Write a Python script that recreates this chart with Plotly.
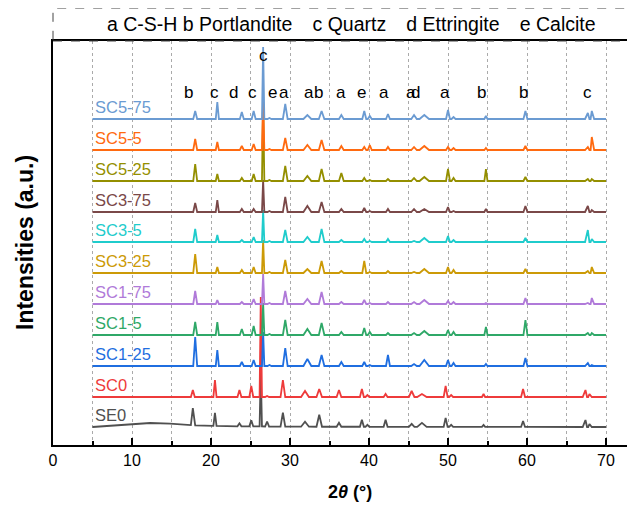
import numpy as np
import plotly.graph_objects as go

# ---------------- data ----------------
series_names = ["SE0", "SC0", "SC1-25", "SC1-5", "SC1-75", "SC3-25",
                "SC3-5", "SC3-75", "SC5-25", "SC5-5", "SC5-75"]
series_colors = ["#505050", "#ee3b3b", "#1f6ee0", "#2fa868", "#b07ad9", "#cc9a06",
                 "#1fcccc", "#7a4848", "#948f00", "#ff6a10", "#6b9bd2"]
# vertical stacking offsets (a.u.)
offsets = [18, 48, 79, 110, 141, 172, 203, 233, 264, 295, 326]
# 2theta shift of each pattern (deg)
shifts = [-0.3, -0.3, 0, 0, 0, 0, 0, 0, 0, 0, 0]

peak_pos = [18.0, 20.8, 23.9, 25.4, 26.6, 27.4, 29.4, 32.2, 34.0, 36.5, 39.4,
            40.1, 42.4, 45.7, 47.0, 50.0, 50.7, 54.8, 59.8, 67.7, 68.2]
peak_halfwidth = [0.25, 0.2, 0.25, 0.25, 0.15, 0.25, 0.3, 0.5, 0.35, 0.3, 0.25,
                  0.25, 0.25, 0.35, 0.6, 0.25, 0.25, 0.2, 0.25, 0.35, 0.3]

heights = {
    "SE0":    [17, 13, 3, 6, 55, 5, 14, 5, 12, 4, 7, 2, 7, 3, 4, 9, 2, 2, 6, 7, 3],
    "SC0":    [7, 17, 7, 11, 100, 1, 17, 6, 8, 7, 8, 2, 3, 6, 3, 11, 2, 3, 8, 7, 3],
    "SC1-25": [29, 16, 4, 6, 34, 1, 18, 7, 11, 4, 4, 1, 11, 2, 6, 6, 3, 2, 8, 3, 1],
    "SC1-5":  [13, 13, 6, 9, 32, 1, 15, 6, 12, 3, 7, 3, 2, 2, 4, 5, 3, 8, 15, 2, 2],
    "SC1-75": [13, 4, 2, 5, 30, 1, 13, 5, 12, 2, 4, 1, 2, 2, 4, 3, 2, 1, 6, 1, 6],
    "SC3-25": [19, 6, 3, 6, 33, 1, 13, 4, 12, 2, 12, 1, 2, 1, 4, 6, 3, 1, 4, 2, 6],
    "SC3-5":  [13, 7, 2, 5, 32, 1, 12, 5, 13, 2, 3, 1, 3, 1, 4, 6, 2, 1, 4, 12, 3],
    "SC3-75": [9, 12, 3, 3, 32, 1, 15, 6, 10, 3, 4, 1, 3, 3, 3, 5, 1, 3, 6, 6, 2],
    "SC5-25": [17, 7, 3, 7, 81, 1, 15, 5, 12, 8, 3, 1, 2, 3, 4, 12, 3, 12, 4, 2, 2],
    "SC5-5":  [11, 8, 4, 6, 51, 1, 12, 5, 10, 4, 3, 5, 3, 3, 4, 3, 2, 2, 4, 3, 13],
    "SC5-75": [8, 17, 7, 8, 72, 1, 15, 4, 8, 4, 8, 3, 5, 4, 4, 9, 2, 3, 8, 6, 8],
}
# amorphous hump of SE0 (2theta, a.u.)
hump_x = [5, 8, 12.3, 14.8, 18, 22, 30, 70]
hump_y = [0, 1.7, 4, 3.3, 1.7, 0.8, 0.3, 0]

scan_start, scan_end = 5, 70

label_text = ["b", "c", "d", "c", "c", "e", "a", "a", "b", "a", "e", "a",
              "a", "d", "a", "b", "b", "c"]
label_x = [17.1, 20.4, 22.8, 25.2, 26.6, 27.8, 29.2, 32.4, 33.6, 36.5, 39.1,
           41.9, 45.3, 45.9, 49.6, 54.3, 59.5, 67.7]
label_y = [353, 353, 353, 353, 390, 353, 353, 353, 353, 353, 353, 353,
           353, 353, 353, 353, 353, 353]

GAP = "\u00a0\u00a0\u00a0\u2009"
phase_legend = ("a C-S-H b Portlandite" + GAP + "c Quartz" + GAP +
                "d Ettringite" + GAP + "e Calcite")

x_ticks = [0, 10, 20, 30, 40, 50, 60, 70]

# ---------------- figure ----------------
FONT = "Arial, Liberation Sans, sans-serif"
fig = go.Figure()

for i, name in enumerate(series_names):
    base = offsets[i]
    if name == "SE0":
        bx, by = hump_x, hump_y
    else:
        bx, by = [scan_start, scan_end], [0, 0]
    pts = [(x, y) for x, y in zip(bx, by)]
    for p, w, h in zip(peak_pos, peak_halfwidth, heights[name]):
        c = p + shifts[i]
        b0 = float(np.interp(c, bx, by))
        pts += [(c - w, float(np.interp(c - w, bx, by))), (c, b0 + h),
                (c + w, float(np.interp(c + w, bx, by)))]
    pts.sort(key=lambda t: t[0])
    xs = [t[0] for t in pts]
    ys = [t[1] + base for t in pts]
    fig.add_trace(go.Scatter(x=xs, y=ys, mode="lines", name=name,
                             line=dict(color=series_colors[i], width=1.8),
                             showlegend=False, hoverinfo="skip"))
    fig.add_annotation(x=5.0, y=base + 12.5, xref="x", yref="y", text=name,
                       showarrow=False, xanchor="left", yanchor="middle",
                       font=dict(family=FONT, size=16.5, color=series_colors[i]))

for t, x, y in zip(label_text, label_x, label_y):
    fig.add_annotation(x=x, y=y, xref="x", yref="y", text=t, showarrow=False,
                       xanchor="center", yanchor="middle",
                       font=dict(family=FONT, size=17, color="black"))

# phase legend box
fig.add_shape(type="rect", xref="paper", yref="paper", x0=0, x1=1.05,
              y0=1.0, y1=(445 - 8) / 404,
              line=dict(color="#444", width=1, dash="dash"))
fig.add_annotation(x=(351 - 53) / 582, y=(445 - 24) / 404, xref="paper", yref="paper",
                   text=phase_legend, showarrow=False, xanchor="center", yanchor="middle",
                   font=dict(family=FONT, size=19.5, color="black"))

fig.add_annotation(x=(25 - 53) / 582, y=0.5, xref="paper", yref="paper",
                   text="<b>Intensities (a.u.)</b>", textangle=-90, showarrow=False,
                   xanchor="center", yanchor="middle",
                   font=dict(family=FONT, size=23, color="black"))
fig.add_annotation(x=(350 - 53) / 582, y=(445 - 492) / 404, xref="paper", yref="paper",
                   text="<b>2<i>θ</i> (°)</b>", showarrow=False,
                   xanchor="center", yanchor="middle",
                   font=dict(family=FONT, size=18, color="black"))

# the page body adds an 8 px offset, so margins are reduced by 8 px on left/top
fig.update_layout(
    width=635, height=506,
    margin=dict(l=45, r=8, t=33, b=69),
    paper_bgcolor="white", plot_bgcolor="white",
    font=dict(family=FONT, color="black"),
    xaxis=dict(range=[0, 73.67], tickvals=x_ticks, ticks="inside", ticklen=7,
               tickwidth=1.5, tickcolor="black", showline=True, linecolor="black",
               linewidth=1.5, mirror=True, showgrid=True, gridcolor="#aaaaaa",
               griddash="dot", gridwidth=1, zeroline=False,
               tickfont=dict(family=FONT, size=16, color="black"),
               minor=dict(dtick=5, tick0=0, ticks="inside", ticklen=4, tickcolor="black",
                          showgrid=True, gridcolor="#aaaaaa", griddash="dot")),
    yaxis=dict(range=[0, 404], showticklabels=False, ticks="", showgrid=False,
               zeroline=False, showline=True, linecolor="black", linewidth=1.5),
)

fig.write_html("out.html")
